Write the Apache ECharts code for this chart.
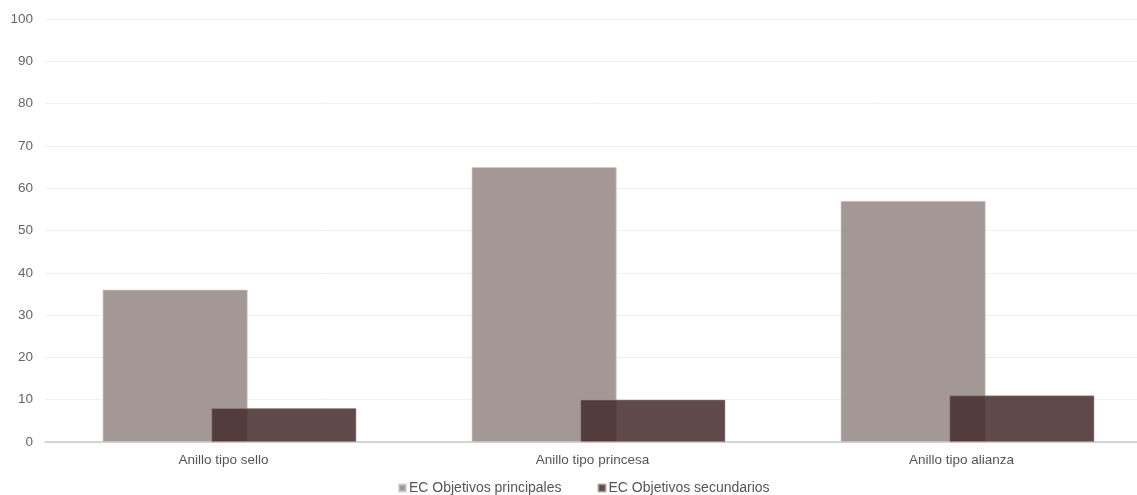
<!DOCTYPE html>
<html>
<head>
<meta charset="utf-8">
<script src="https://cdn.jsdelivr.net/npm/echarts@6/dist/echarts.min.js"></script>
<style>
html,body{margin:0;padding:0;background:#fff;overflow:hidden;}
#chart{width:1160px;height:495px;}
</style>
</head>
<body>
<div id="chart"></div>
<script>
const categories = ['Anillo tipo sello', 'Anillo tipo princesa', 'Anillo tipo alianza'];
const seriesNames = ['EC Objetivos principales', 'EC Objetivos secundarios'];
const principales = [36, 65, 57];
const secundarios = [8, 10, 11];
const yTicks = [0, 10, 20, 30, 40, 50, 60, 70, 80, 90, 100];

const chart = echarts.init(document.getElementById('chart'), null, {renderer: 'canvas'});
const font = 'Liberation Sans, Arial, sans-serif';
chart.setOption({
  animation: false,
  textStyle: {fontFamily: font},
  grid: {left: 45, right: 8, top: 19, bottom: 53, containLabel: false},
  legend: {
    data: seriesNames,
    bottom: -5,
    left: 393,
    icon: 'rect',
    itemWidth: 7,
    itemHeight: 7,
    itemGap: 36,
    textStyle: {color: '#555', fontSize: 14, fontFamily: font, padding: [0, 0, 0, -2]}
  },
  xAxis: {
    type: 'category',
    data: categories,
    axisLine: {lineStyle: {color: '#c8c8c8', width: 1.5}},
    axisTick: {show: false},
    axisLabel: {color: '#555', fontSize: 13.5, fontFamily: font, margin: 11, padding: [0, 12, 0, 0]},
    splitLine: {show: false}
  },
  yAxis: {
    type: 'value',
    min: yTicks[0],
    max: yTicks[yTicks.length - 1],
    interval: 10,
    axisLine: {show: false},
    axisTick: {show: false},
    axisLabel: {color: '#666', fontSize: 13.5, fontFamily: font, margin: 12},
    splitLine: {lineStyle: {color: '#f0f0f0', width: 1}}
  },
  series: [
    {
      name: seriesNames[0],
      type: 'bar',
      data: principales,
      barWidth: 145,
      barGap: '-25%',
      itemStyle: {color: 'rgba(153,141,138,0.9)', borderColor: 'rgba(210,202,200,0.8)', borderWidth: 0.8}
    },
    {
      name: seriesNames[1],
      type: 'bar',
      data: secundarios,
      barWidth: 145,
      itemStyle: {color: 'rgba(74,48,48,0.88)', borderColor: 'rgba(150,135,135,0.6)', borderWidth: 0.8}
    }
  ]
});
</script>
</body>
</html>
